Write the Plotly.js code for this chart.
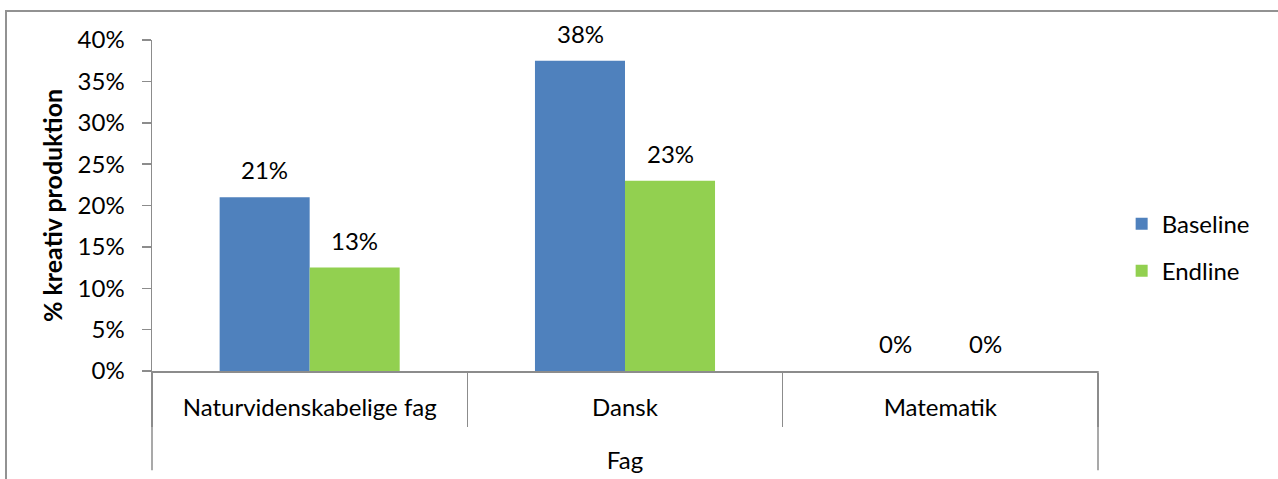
<!DOCTYPE html>
<html>
<head>
<meta charset="utf-8">
<script src="https://cdn.plot.ly/plotly-3.0.1.min.js"></script>
<style>
  html, body { margin: 0; padding: 0; background: #fff; overflow: hidden; }
  #wrap { position: relative; width: 1278px; height: 479px; overflow: hidden; background: #fff; }
  #frame { position: absolute; left: 5px; top: 10px; width: 1400px; height: 600px;
           border-left: 2px solid #929292; border-top: 2px solid #929292; }
  #chart { position: absolute; left: 0; top: 0; width: 1278px; height: 479px; }
</style>
</head>
<body>
<div id="wrap">
  <div id="frame"></div>
  <div id="chart"></div>
</div>
<script>
// Andel kreativ produktion pr. fag, baseline og endline
const subjects = ['Naturvidenskabelige fag', 'Dansk', 'Matematik'];
const baseline = [0.21, 0.375, 0];
const endline = [0.125, 0.23, 0];
const seriesNames = ['Baseline', 'Endline'];
const yTicks = [0, 0.05, 0.10, 0.15, 0.20, 0.25, 0.30, 0.35, 0.40];

const FONT = 'Lato, "Open Sans", sans-serif';
const FS = 24;
const AXIS_GREY = '#8c8c8c';
const COLORS = ['#4f81bd', '#92d050'];

const pct = v => Math.round(v * 100) + '%';

const seriesValues = [baseline, endline];
const traces = seriesValues.map((vals, s) => ({
  type: 'bar',
  name: seriesNames[s],
  legendgroup: seriesNames[s],
  x: subjects,
  y: vals,
  marker: { color: COLORS[s], line: { width: 0 } },
  hoverinfo: 'skip'
}));

// value labels above each bar, offset to the bar's slot within its group
const annotations = [];
seriesValues.forEach((vals, s) => {
  vals.forEach((v, i) => {
    annotations.push({
      x: subjects[i], y: v, xref: 'x', yref: 'y',
      text: pct(v), showarrow: false,
      xanchor: 'center', yanchor: 'bottom',
      xshift: s === 0 ? -45 : 45, yshift: 11,
      font: { family: FONT, size: FS, color: '#000' }
    });
  });
});

// outer category bracket ("Fag") extending below the axis
const bracket = { color: AXIS_GREY, width: 1.5 };
const shapes = [
  { type: 'line', xref: 'paper', yref: 'paper', x0: 0, x1: 0, y0: 0, y1: -0.3, line: bracket },
  { type: 'line', xref: 'paper', yref: 'paper', x0: 1, x1: 1, y0: 0, y1: -0.3, line: bracket }
];

const layout = {
  width: 1278, height: 479,
  margin: { l: 152, r: 180, t: 40, b: 108 },
  paper_bgcolor: 'rgba(0,0,0,0)',
  plot_bgcolor: 'rgba(0,0,0,0)',
  font: { family: FONT, size: FS, color: '#000' },
  barmode: 'group',
  bargap: 0.429,
  bargroupgap: 0,
  showlegend: true,
  legend: {
    x: 1.025, xanchor: 'left', y: 0.373, yanchor: 'middle',
    font: { family: FONT, size: FS, color: '#000' },
    tracegroupgap: 13, bgcolor: 'rgba(0,0,0,0)'
  },
  xaxis: {
    type: 'category',
    tickson: 'boundaries',
    ticks: 'outside', ticklen: 54, tickwidth: 1.5, tickcolor: AXIS_GREY,
    ticklabelstandoff: 15,
    showline: true, linecolor: AXIS_GREY, linewidth: 1.5,
    showgrid: false, zeroline: false,
    tickfont: { family: FONT, size: FS, color: '#000' },
    title: { text: 'Fag', standoff: 32, font: { family: FONT, size: FS, color: '#000' } },
    automargin: false, fixedrange: true
  },
  yaxis: {
    range: [0, 0.4],
    tickvals: yTicks,
    tickformat: '.0%',
    ticks: 'outside', ticklen: 9, tickwidth: 1.5, tickcolor: AXIS_GREY,
    ticklabelstandoff: 12,
    showline: true, linecolor: AXIS_GREY, linewidth: 1.5,
    showgrid: false, zeroline: false,
    tickfont: { family: FONT, size: FS, color: '#000' },
    title: { text: '<b>% kreativ produktion</b>', standoff: 8,
             font: { family: FONT, size: 25, color: '#000' } },
    automargin: false, fixedrange: true
  },
  annotations: annotations,
  shapes: shapes
};

Plotly.newPlot('chart', traces, layout, { displayModeBar: false, staticPlot: true });
</script>
</body>
</html>
